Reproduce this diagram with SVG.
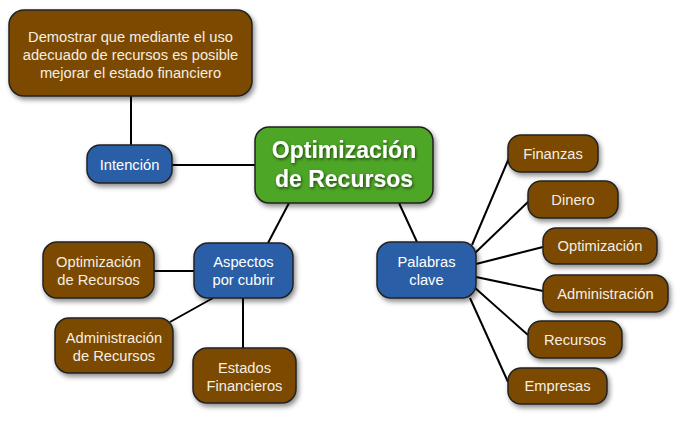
<svg xmlns="http://www.w3.org/2000/svg" width="686" height="422" viewBox="0 0 686 422">
<defs>
<filter id="sh" x="-20%" y="-20%" width="150%" height="160%">
<feDropShadow dx="2" dy="3" stdDeviation="2.5" flood-color="#000" flood-opacity="0.45"/>
</filter>
<filter id="tsh" x="-10%" y="-20%" width="120%" height="150%">
<feDropShadow dx="1" dy="1.5" stdDeviation="1.5" flood-color="#000" flood-opacity="0.6"/>
</filter>
</defs>
<style>
.brown{fill:#7c4a04;stroke:#222;stroke-width:1.5}
.blue{fill:#2a5fa8;stroke:#222;stroke-width:1.5}
.green{fill:#4ea626;stroke:#222;stroke-width:1.5}
text{font-family:"Liberation Sans",Arial,sans-serif;font-size:14.7px;text-anchor:middle}
.tb{fill:#f6eee2}
.tw{fill:#ffffff}
.big{font-size:23px;font-weight:bold;fill:#fff}
.con line{stroke:#000;stroke-width:2;fill:none}
</style>
<rect width="686" height="422" fill="#fff"/>
<g class="con">
<line x1="131" y1="96" x2="131" y2="145"/>
<line x1="172" y1="165" x2="255" y2="165"/>
<line x1="289" y1="203" x2="268" y2="243"/>
<line x1="399" y1="203" x2="417" y2="242"/>
<line x1="154" y1="271" x2="194" y2="271"/>
<line x1="213" y1="298" x2="170" y2="322"/>
<line x1="243" y1="298" x2="243" y2="348"/>
<line x1="472" y1="245" x2="509" y2="158"/>
<line x1="475" y1="253" x2="529" y2="201"/>
<line x1="476" y1="264" x2="543" y2="247"/>
<line x1="476" y1="277" x2="543" y2="291"/>
<line x1="474" y1="287" x2="528" y2="335"/>
<line x1="470" y1="298" x2="508" y2="382"/>
</g>
<g id="objetivo">
<rect class="brown" x="9" y="10" width="243" height="86" rx="15" filter="url(#sh)"/>
<text class="tb" x="130.5" y="42">Demostrar que mediante el uso</text>
<text class="tb" x="130.5" y="60">adecuado de recursos es posible</text>
<text class="tb" x="130.5" y="78">mejorar el estado financiero</text>
</g>
<g id="intencion">
<rect class="blue" x="87" y="145" width="85" height="38" rx="13" filter="url(#sh)"/>
<text class="tw" x="129.5" y="170">Intención</text>
</g>
<g id="central">
<rect class="green" x="255" y="127" width="178" height="76" rx="14" filter="url(#sh)"/>
<g filter="url(#tsh)">
<text class="big" x="344" y="158">Optimización</text>
<text class="big" x="344" y="187">de Recursos</text>
</g>
</g>
<g id="aspectos">
<rect class="blue" x="194" y="243" width="99" height="55" rx="14" filter="url(#sh)"/>
<text class="tw" x="243.5" y="267">Aspectos</text>
<text class="tw" x="243.5" y="285">por cubrir</text>
</g>
<g id="optrec">
<rect class="brown" x="43" y="242" width="111" height="56" rx="14" filter="url(#sh)"/>
<text class="tb" x="98.5" y="267">Optimización</text>
<text class="tb" x="98.5" y="285">de Recursos</text>
</g>
<g id="admrec">
<rect class="brown" x="55" y="318" width="118" height="55" rx="14" filter="url(#sh)"/>
<text class="tb" x="114" y="343">Administración</text>
<text class="tb" x="114" y="361">de Recursos</text>
</g>
<g id="estados">
<rect class="brown" x="193" y="348" width="103" height="55" rx="14" filter="url(#sh)"/>
<text class="tb" x="244.5" y="373">Estados</text>
<text class="tb" x="244.5" y="391">Financieros</text>
</g>
<g id="palabras">
<rect class="blue" x="377" y="242" width="99" height="56" rx="14" filter="url(#sh)"/>
<text class="tw" x="426.5" y="267">Palabras</text>
<text class="tw" x="426.5" y="285">clave</text>
</g>
<g id="finanzas">
<rect class="brown" x="508" y="135" width="90" height="37" rx="13" filter="url(#sh)"/>
<text class="tb" x="553" y="159">Finanzas</text>
</g>
<g id="dinero">
<rect class="brown" x="528" y="181" width="90" height="37" rx="13" filter="url(#sh)"/>
<text class="tb" x="573" y="205">Dinero</text>
</g>
<g id="optimizacion">
<rect class="brown" x="543" y="228" width="114" height="36" rx="13" filter="url(#sh)"/>
<text class="tb" x="600" y="251">Optimización</text>
</g>
<g id="administracion">
<rect class="brown" x="543" y="275" width="125" height="37" rx="13" filter="url(#sh)"/>
<text class="tb" x="605.5" y="299">Administración</text>
</g>
<g id="recursos">
<rect class="brown" x="528" y="321" width="94" height="37" rx="13" filter="url(#sh)"/>
<text class="tb" x="575" y="345">Recursos</text>
</g>
<g id="empresas">
<rect class="brown" x="508" y="368" width="99" height="36" rx="13" filter="url(#sh)"/>
<text class="tb" x="557.5" y="391">Empresas</text>
</g>
</svg>
